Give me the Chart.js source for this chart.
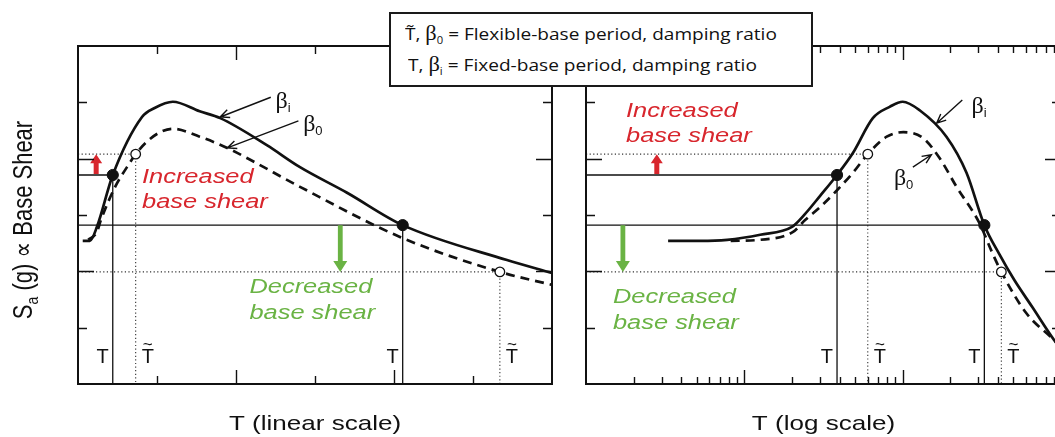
<!DOCTYPE html>
<html>
<head>
<meta charset="utf-8">
<script src="https://cdn.jsdelivr.net/npm/chart.js@4.4.1/dist/chart.umd.min.js"></script>
<style>
  html, body { margin: 0; padding: 0; width: 1055px; height: 437px; overflow: hidden; background: #fff; }
  canvas { position: absolute; top: 0; }
  #linChart { left: 0; }
  #logChart { left: 570px; }
  #key {
    position: absolute; left: 389px; top: 12px; width: 420px; height: 71px;
    border: 2px solid #1a1a1a; background: #fff; z-index: 5;
    font-family: "Open Sans", "Noto Sans", sans-serif; font-size: 17px; color: #111;
    -webkit-font-smoothing: antialiased;
  }
  #key .row { position: absolute; white-space: nowrap; line-height: 22px; transform-origin: 0 50%; }
  #key .gk { font-family: "Liberation Serif", "DejaVu Serif", serif; font-size: 20px; }
  #key sub { font-size: 10px; color: #111; }
</style>
</head>
<body>
<canvas id="linChart" width="570" height="437"></canvas>
<canvas id="logChart" width="500" height="437"></canvas>
<div id="key">
  <div class="row" data-w="372" style="left:14px; top:8px;">T&#771;, <span class="gk">β</span><sub>0</sub> = Flexible-base period, damping ratio</div>
  <div class="row" data-w="349" style="left:17px; top:39px;">T, <span class="gk">β</span><sub>i</sub> = Fixed-base period, damping ratio</div>
</div>
<script>
// Spectral acceleration Sa (g) against period T, fixed base (beta_i) and flexible base (beta_0)

// linear period axis
const linPeriodFixed = [0.06, 0.15, 0.24, 0.44, 0.81, 0.97, 1.20, 1.54, 1.80, 2.39, 2.81, 3.40, 4.11, 5.43, 6.00];
const linSaFixed     = [2.54, 2.54, 2.79, 3.71, 4.74, 4.90, 5.01, 4.84, 4.72, 4.24, 3.85, 3.40, 2.82, 2.20, 1.97];
const linPeriodFlex  = [0.13, 0.24, 0.29, 0.47, 0.62, 0.73, 0.87, 1.04, 1.20, 1.54, 1.89, 2.18, 2.81, 4.11, 5.34, 6.00];
const linSaFlex      = [2.56, 2.70, 2.91, 3.50, 3.85, 4.08, 4.30, 4.47, 4.53, 4.39, 4.19, 3.98, 3.50, 2.59, 1.99, 1.76];

// log period axis
const logPeriodFixed = [0.033, 0.053, 0.078, 0.126, 0.200, 0.242, 0.301, 0.385, 0.485, 0.648, 0.828, 1.00, 1.28, 1.89, 2.53, 3.28, 4.07, 5.06, 6.57, 9.04, 10];
const logSaFixed     = [2.54, 2.54, 2.56, 2.65, 2.79, 3.02, 3.34, 3.71, 4.10, 4.72, 4.92, 5.01, 4.86, 4.39, 3.75, 2.82, 2.31, 1.85, 1.37, 0.78, 0.62];
const logPeriodFlex  = [0.082, 0.126, 0.203, 0.242, 0.301, 0.385, 0.485, 0.602, 0.793, 1.01, 1.34, 1.71, 2.19, 3.05, 3.68, 4.20, 6.03, 8.65, 10];
const logSaFlex      = [2.54, 2.56, 2.70, 2.91, 3.14, 3.44, 3.75, 4.08, 4.39, 4.47, 4.37, 4.01, 3.50, 2.86, 2.33, 1.99, 1.26, 0.83, 0.66];

// marked periods (T fixed, T~ flexible) and their Sa levels
const saFixedMarks = [3.71, 2.82];
const saFlexMarks  = [4.08, 1.99];
const linPeriodMarksFixed = [0.44, 4.11];
const linPeriodMarksFlex  = [0.73, 5.34];
const logPeriodMarksFixed = [0.385, 3.28];
const logPeriodMarksFlex  = [0.602, 4.20];

// ticks
const saTicks = [1, 2, 3, 4, 5];
const linPeriodTicks = [1, 2, 3, 4, 5];
const logDecades = [0.01, 0.1, 1];

const SX = 1.24;               // labels are set slightly wide
const INK = '#111';
const RED = '#d8262d';
const GREEN = '#6ab344';
const SANS = '"Liberation Sans", Arial, "DejaVu Sans", sans-serif';
const SERIF = '"Liberation Serif", "DejaVu Serif", serif';

function pts(xs, ys) {
  return xs.map((x, i) => ({ x: x, y: ys[i] }));
}

function curve(xs, ys, dashed) {
  return {
    data: pts(xs, ys),
    borderColor: INK,
    borderWidth: 2.7,
    borderDash: dashed ? [9, 6] : [],
    pointRadius: 0,
    cubicInterpolationMode: 'monotone',
    order: 1
  };
}

// L-shaped guide: across from the Sa axis to the point, then down to the period axis
function guides(xMin, xs, levels, dotted) {
  return xs.map((t, i) => ({
    data: [{ x: xMin, y: levels[i] }, { x: t, y: levels[i] }, { x: t, y: 0 }],
    borderColor: dotted ? '#333' : INK,
    borderWidth: dotted ? 1.1 : 1.3,
    borderDash: dotted ? [1.2, 2.4] : [],
    pointRadius: 0,
    tension: 0,
    order: 2
  }));
}

function marks(xs, levels, open) {
  return {
    data: pts(xs, levels),
    showLine: false,
    pointRadius: open ? 4.8 : 5.6,
    pointBackgroundColor: open ? '#fff' : INK,
    pointBorderColor: INK,
    pointBorderWidth: open ? 1.3 : 1,
    order: 0
  };
}

function wideText(ctx, str, x, y, font, color, align) {
  ctx.save();
  ctx.font = font;
  ctx.fillStyle = color;
  ctx.textBaseline = 'alphabetic';
  ctx.textAlign = 'left';
  const w = ctx.measureText(str).width * SX;
  const x0 = align === 'center' ? x - w / 2 : align === 'right' ? x - w : x;
  ctx.translate(x0, y);
  ctx.scale(SX, 1);
  ctx.fillText(str, 0, 0);
  ctx.restore();
}

function periodLabel(ctx, x, y, tilde, align) {
  ctx.save();
  ctx.font = '20px ' + SANS;
  ctx.fillStyle = INK;
  ctx.textBaseline = 'alphabetic';
  const w = ctx.measureText('T').width;
  const x0 = align === 'right' ? x - w : x;
  ctx.textAlign = 'left';
  ctx.fillText('T', x0, y);
  if (tilde) {
    ctx.font = '17px ' + SANS;
    ctx.textAlign = 'center';
    ctx.fillText('~', x0 + w / 2, y - 13);
  }
  ctx.restore();
}

function blockArrow(ctx, px, yFrom, yTo, color, shaft, half, head) {
  const dir = Math.sign(yTo - yFrom);
  const neck = yTo - dir * head;
  ctx.save();
  ctx.fillStyle = color;
  ctx.beginPath();
  ctx.moveTo(px - shaft, yFrom);
  ctx.lineTo(px - shaft, neck);
  ctx.lineTo(px - half, neck);
  ctx.lineTo(px, yTo);
  ctx.lineTo(px + half, neck);
  ctx.lineTo(px + shaft, neck);
  ctx.lineTo(px + shaft, yFrom);
  ctx.closePath();
  ctx.fill();
  ctx.restore();
}

function leader(ctx, x0, y0, x1, y1) {
  const ang = Math.atan2(y1 - y0, x1 - x0), L = 10, s = 0.42;
  ctx.save();
  ctx.strokeStyle = INK;
  ctx.lineWidth = 1.4;
  ctx.beginPath();
  ctx.moveTo(x0, y0);
  ctx.lineTo(x1, y1);
  ctx.moveTo(x1 - L * Math.cos(ang - s), y1 - L * Math.sin(ang - s));
  ctx.lineTo(x1, y1);
  ctx.lineTo(x1 - L * Math.cos(ang + s), y1 - L * Math.sin(ang + s));
  ctx.stroke();
  ctx.restore();
}

function betaLabel(ctx, px, py, sub) {
  ctx.save();
  ctx.fillStyle = INK;
  ctx.textAlign = 'left';
  ctx.textBaseline = 'alphabetic';
  ctx.font = '24px ' + SERIF;
  ctx.fillText('β', px, py);
  const w = ctx.measureText('β').width;
  ctx.font = '13px ' + SANS;
  ctx.fillText(sub, px + w, py + 4);
  ctx.restore();
}

function sideTitle(ctx, cx, cy) {
  const big = '22px ' + SANS, small = '14px ' + SANS;
  const rest = ' (g) \u221D Base Shear';
  ctx.save();
  ctx.translate(cx, cy);
  ctx.rotate(-Math.PI / 2);
  ctx.scale(1, SX);
  ctx.fillStyle = INK;
  ctx.textAlign = 'left';
  ctx.textBaseline = 'alphabetic';
  ctx.font = big;
  const wS = ctx.measureText('S').width, wR = ctx.measureText(rest).width;
  ctx.font = small;
  const wa = ctx.measureText('a').width;
  let x = -(wS + wa + wR) / 2;
  ctx.font = big;
  ctx.fillText('S', x, 0);
  ctx.font = small;
  ctx.fillText('a', x + wS, 5);
  ctx.font = big;
  ctx.fillText(rest, x + wS + wa, 0);
  ctx.restore();
}

// frame, inward ticks, period labels, arrows and captions for one panel
function panelDecor(p) {
  return {
    id: 'panelDecor',
    afterDatasetsDraw(chart) {
      const ctx = chart.ctx, a = chart.chartArea;
      const X = v => chart.scales.x.getPixelForValue(v);
      const Y = v => chart.scales.y.getPixelForValue(v);

      p.fixedMarks.forEach(t => periodLabel(ctx, X(t) - 4, a.bottom - 21, false, 'right'));
      p.flexMarks.forEach(t => periodLabel(ctx, X(t) + 6, a.bottom - 21, true, 'left'));

      blockArrow(ctx, X(p.upArrow), Y(saFixedMarks[0]) - 1, Y(saFlexMarks[0]), RED, 2.5, 6, 9);
      blockArrow(ctx, X(p.downArrow), Y(saFixedMarks[1]), Y(saFlexMarks[1]), GREEN, 2.4, 7, 11);

      p.captions.forEach(c => wideText(ctx, c.text, X(c.t), Y(c.sa), 'italic 20.5px ' + SANS, c.color, 'left'));

      p.betas.forEach(b => {
        leader(ctx, X(b.from[0]), Y(b.from[1]), X(b.to[0]), Y(b.to[1]));
        betaLabel(ctx, X(b.t), Y(b.sa), b.sub);
      });

      ctx.save();
      ctx.strokeStyle = INK;
      ctx.lineWidth = 2;
      ctx.strokeRect(a.left, a.top, a.right - a.left, a.bottom - a.top);
      ctx.lineWidth = 1.4;
      ctx.beginPath();
      p.xTicks.forEach(tk => {
        const px = Math.round(X(tk.v)) + 0.5;
        ctx.moveTo(px, a.bottom); ctx.lineTo(px, a.bottom - tk.len);
        ctx.moveTo(px, a.top); ctx.lineTo(px, a.top + tk.len);
      });
      saTicks.forEach(v => {
        const py = Math.round(Y(v)) + 0.5, len = v % 2 === 0 ? 16 : 9;
        ctx.moveTo(a.left, py); ctx.lineTo(a.left + len, py);
        ctx.moveTo(a.right, py); ctx.lineTo(a.right - len, py);
      });
      ctx.stroke();
      ctx.restore();

      wideText(ctx, p.title, (a.left + a.right) / 2, a.bottom + 46, '21px ' + SANS, INK, 'center');
      if (p.sideTitle) sideTitle(ctx, a.left - 46, (a.top + a.bottom) / 2 + 5);
    }
  };
}

function baseOptions(xScale, padding) {
  return {
    responsive: false,
    animation: false,
    devicePixelRatio: 1,
    events: [],
    layout: { padding: padding },
    plugins: { legend: { display: false }, tooltip: { enabled: false } },
    scales: {
      x: Object.assign({ display: false }, xScale),
      y: { type: 'linear', min: 0, max: 6, display: false }
    }
  };
}

const linTicks = linPeriodTicks.map(v => ({ v: v, len: v % 2 === 0 ? 14 : 8 }));
const logTicks = [];
logDecades.forEach(d => {
  for (let k = 1; k <= 9; k++) {
    if (k === 1 && d === logDecades[0]) continue;
    logTicks.push({ v: k * d, len: k === 1 ? 14 : 7 });
  }
});

new Chart(document.getElementById('linChart'), {
  type: 'line',
  data: {
    datasets: [
      marks(linPeriodMarksFixed, saFixedMarks, false),
      marks(linPeriodMarksFlex, saFlexMarks, true),
      curve(linPeriodFixed, linSaFixed, false),
      curve(linPeriodFlex, linSaFlex, true),
      ...guides(0, linPeriodMarksFixed, saFixedMarks, false),
      ...guides(0, linPeriodMarksFlex, saFlexMarks, true)
    ]
  },
  options: baseOptions({ type: 'linear', min: 0, max: 6 }, { left: 78, top: 46, right: 18, bottom: 53 }),
  plugins: [panelDecor({
    title: 'T (linear scale)',
    sideTitle: true,
    xTicks: linTicks,
    fixedMarks: linPeriodMarksFixed,
    flexMarks: linPeriodMarksFlex,
    upArrow: 0.23,
    downArrow: 3.32,
    captions: [
      { text: 'Increased', t: 0.81, sa: 3.57, color: RED },
      { text: 'base shear', t: 0.81, sa: 3.12, color: RED },
      { text: 'Decreased', t: 2.17, sa: 1.62, color: GREEN },
      { text: 'base shear', t: 2.17, sa: 1.15, color: GREEN }
    ],
    betas: [
      { sub: 'i', t: 2.50, sa: 4.90, from: [2.44, 5.09], to: [1.80, 4.74] },
      { sub: '0', t: 2.85, sa: 4.49, from: [2.79, 4.67], to: [1.89, 4.19] }
    ]
  })]
});

new Chart(document.getElementById('logChart'), {
  type: 'line',
  data: {
    datasets: [
      marks(logPeriodMarksFixed, saFixedMarks, false),
      marks(logPeriodMarksFlex, saFlexMarks, true),
      curve(logPeriodFixed, logSaFixed, false),
      curve(logPeriodFlex, logSaFlex, true),
      ...guides(0.01, logPeriodMarksFixed, saFixedMarks, false),
      ...guides(0.01, logPeriodMarksFlex, saFlexMarks, true)
    ]
  },
  options: baseOptions({ type: 'logarithmic', min: 0.01, max: 10 }, { left: 16, top: 46, right: 9, bottom: 53 }),
  plugins: [panelDecor({
    title: 'T (log scale)',
    sideTitle: false,
    xTicks: logTicks,
    fixedMarks: logPeriodMarksFixed,
    flexMarks: logPeriodMarksFlex,
    upArrow: 0.028,
    downArrow: 0.0171,
    captions: [
      { text: 'Increased', t: 0.0179, sa: 4.74, color: RED },
      { text: 'base shear', t: 0.0179, sa: 4.30, color: RED },
      { text: 'Decreased', t: 0.0148, sa: 1.44, color: GREEN },
      { text: 'base shear', t: 0.0148, sa: 0.98, color: GREEN }
    ],
    betas: [
      { sub: 'i', t: 2.72, sa: 4.81, from: [2.38, 5.04], to: [1.64, 4.63] },
      { sub: '0', t: 0.88, sa: 3.53, from: [1.16, 3.85], to: [1.52, 4.07] }
    ]
  })]
});

// stretch the key rows to their set widths
document.querySelectorAll('#key .row').forEach(r => {
  const w = r.getBoundingClientRect().width;
  r.style.transform = 'scaleX(' + (Number(r.dataset.w) / w).toFixed(3) + ')';
});
</script>
</body>
</html>
